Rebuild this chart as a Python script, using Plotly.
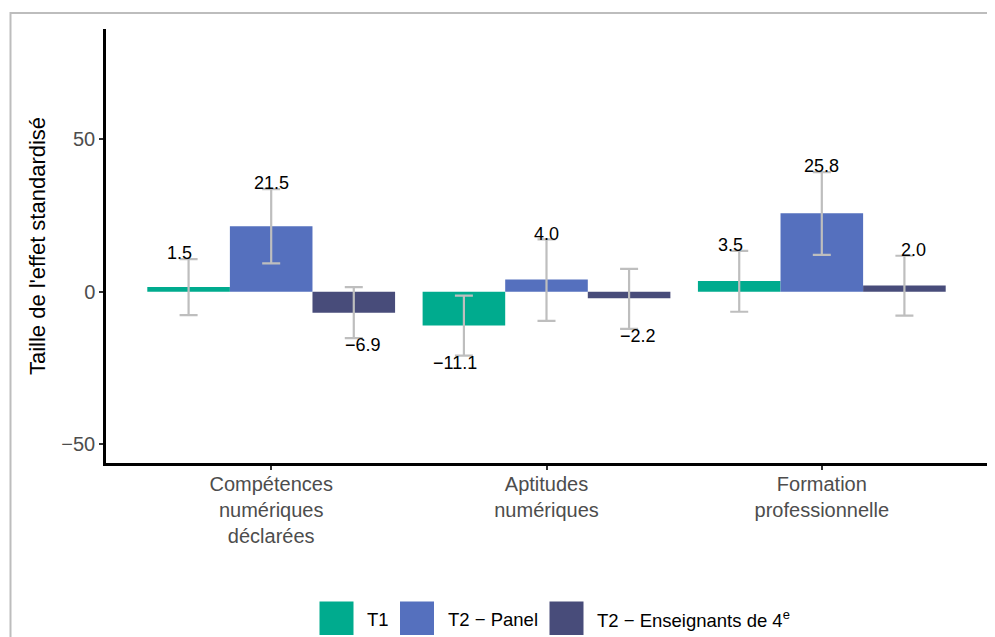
import plotly.graph_objects as go

categories = [
    "Compétences<br>numériques<br>déclarées",
    "Aptitudes<br>numériques",
    "Formation<br>professionnelle",
]
series_names = ["T1", "T2 − Panel", "T2 − Enseignants de 4<sup>e</sup>"]
series_colors = ["#00AB8E", "#5570BE", "#484C7A"]

effect_t1 = [1.5, -11.1, 3.5]
effect_panel = [21.5, 4.0, 25.8]
effect_4e = [-6.9, -2.2, 2.0]

ci_low_t1 = [-7.7, -21.0, -6.6]
ci_high_t1 = [10.7, -1.3, 13.4]
ci_low_panel = [9.3, -9.6, 12.1]
ci_high_panel = [33.7, 17.2, 39.3]
ci_low_4e = [-15.3, -12.2, -7.9]
ci_high_4e = [1.5, 7.5, 11.8]

y_tick_values = [-50, 0, 50]
y_tick_labels = ["−50", "0", "50"]

effects = [effect_t1, effect_panel, effect_4e]
ci_lows = [ci_low_t1, ci_low_panel, ci_low_4e]
ci_highs = [ci_high_t1, ci_high_panel, ci_high_4e]

bar_offsets = [-0.3, 0.0, 0.3]
label_offsets = [-1 / 3, 0.0, 1 / 3]
positions = list(range(len(categories)))

# page has an 8px body margin: figure is drawn at (8, 8)
OFF = 8
FIG_W, FIG_H = 979, 629
M_L, M_R, M_T, M_B = 98, 0, 21, 174
PW, PH = FIG_W - M_L - M_R, FIG_H - M_T - M_B


def px_x(px):
    return (px - OFF - M_L) / PW


def px_y(py):
    return (FIG_H - M_B - (py - OFF)) / PH


def fmt(v):
    return ("%.1f" % v).replace("-", "−")


fig = go.Figure()

for j in range(3):
    vals = effects[j]
    fig.add_trace(
        go.Bar(
            x=[p + bar_offsets[j] for p in positions],
            y=vals,
            width=0.3,
            marker={"color": series_colors[j], "line": {"width": 0}},
            error_y={
                "type": "data",
                "symmetric": False,
                "array": [h - v for h, v in zip(ci_highs[j], vals)],
                "arrayminus": [v - l for l, v in zip(ci_lows[j], vals)],
                "color": "#BEBEBE",
                "thickness": 2.2,
                "width": 9,
            },
            name=series_names[j],
            showlegend=False,
            hoverinfo="skip",
        )
    )

annotations = []
# value labels at the end of each confidence interval
for j in range(3):
    for p, v, lo, hi in zip(positions, effects[j], ci_lows[j], ci_highs[j]):
        annotations.append({
            "x": p + label_offsets[j],
            "y": hi if v >= 0 else lo,
            "xref": "x", "yref": "y",
            "text": fmt(v),
            "showarrow": False,
            "xanchor": "center", "yanchor": "middle",
            "yshift": 5.7 if v >= 0 else -7.2,
            "font": {"color": "black", "size": 18},
        })

# border + custom legend (large square keys)
shapes = [
    {
        "type": "rect", "xref": "paper", "yref": "paper",
        "x0": px_x(10.5), "x1": px_x(1010), "y0": px_y(700), "y1": px_y(13),
        "line": {"color": "#BDBDBD", "width": 2}, "fillcolor": "rgba(0,0,0,0)",
        "layer": "below",
    }
]
key_left = [319.5, 400, 549.5]
text_left = [365, 446, 595]
for j in range(3):
    shapes.append({
        "type": "rect", "xref": "paper", "yref": "paper",
        "x0": px_x(key_left[j]), "x1": px_x(key_left[j] + 34),
        "y0": px_y(635), "y1": px_y(601.5),
        "line": {"width": 0}, "fillcolor": series_colors[j],
    })
    annotations.append({
        "xref": "paper", "yref": "paper",
        "x": px_x(text_left[j]), "y": px_y(619),
        "xanchor": "left", "yanchor": "middle",
        "text": series_names[j], "showarrow": False,
        "font": {"color": "black", "size": 18.5},
    })

fig.update_layout(
    width=FIG_W,
    height=FIG_H,
    margin={"l": M_L, "r": M_R, "t": M_T, "b": M_B, "pad": 0},
    plot_bgcolor="white",
    paper_bgcolor="white",
    barmode="overlay",
    font={"family": "Liberation Sans, Arial", "color": "black"},
    showlegend=False,
    shapes=shapes,
    annotations=annotations,
    xaxis={
        "range": [-0.6, 2.6],
        "tickvals": positions,
        "ticktext": categories,
        "showgrid": False,
        "zeroline": False,
        "showline": True,
        "linecolor": "black",
        "linewidth": 2.5,
        "ticks": "outside",
        "ticklen": 4,
        "tickwidth": 1.5,
        "tickcolor": "#333333",
        "ticklabelstandoff": -3,
        "tickfont": {"size": 20, "color": "#4D4D4D"},
        "fixedrange": True,
    },
    yaxis={
        "range": [-56.3, 86.3],
        "tickvals": y_tick_values,
        "ticktext": y_tick_labels,
        "showgrid": False,
        "zeroline": False,
        "showline": True,
        "linecolor": "black",
        "linewidth": 2.5,
        "ticks": "outside",
        "ticklen": 4,
        "tickwidth": 1.5,
        "tickcolor": "#333333",
        "tickfont": {"size": 20, "color": "#4D4D4D"},
        "title": {"text": "Taille de l'effet standardisé", "font": {"size": 22, "color": "black"}, "standoff": 10},
        "fixedrange": True,
    },
)

fig.write_html("out.html")
